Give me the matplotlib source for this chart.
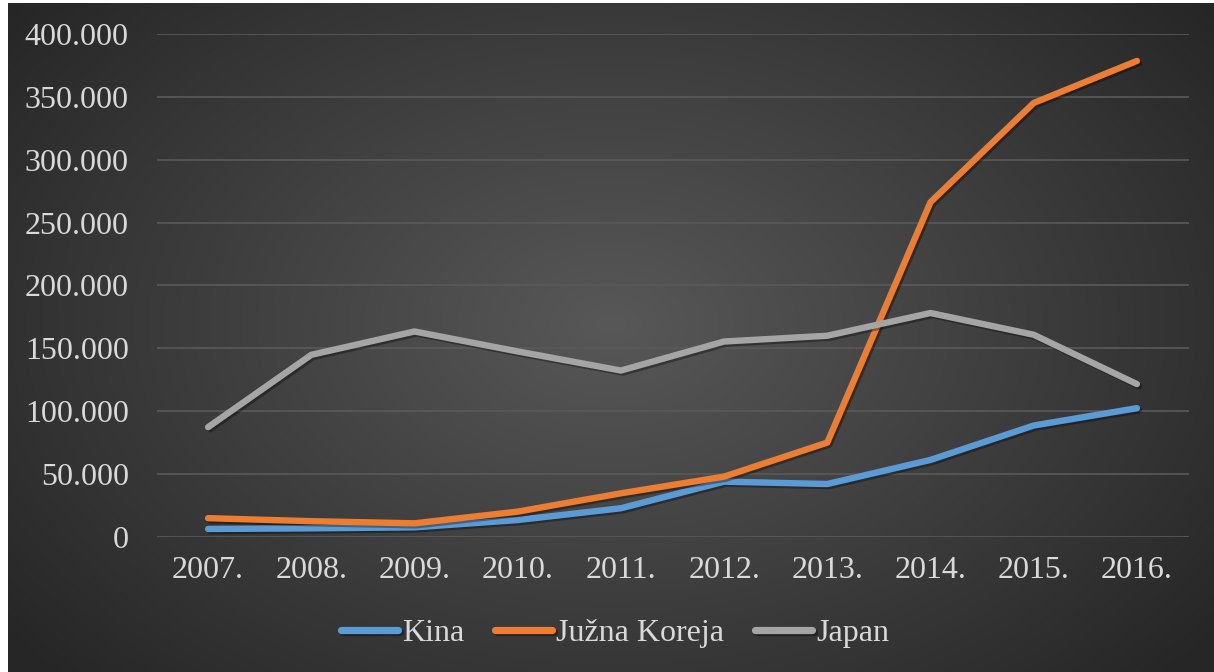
import numpy as np
import matplotlib.pyplot as plt
import matplotlib.patheffects as pe

years = ['2007.', '2008.', '2009.', '2010.', '2011.', '2012.', '2013.', '2014.', '2015.', '2016.']
kina = [6000, 6500, 7300, 13100, 22500, 43700, 41800, 61000, 88400, 102200]
juzna_koreja = [14600, 12200, 10500, 19800, 34400, 47700, 74800, 266300, 345300, 378800]
japan = [87100, 144700, 163300, 147400, 132200, 155300, 159900, 178000, 160700, 121400]

series = [('Kina', kina, '#5B9BD5'),
          ('Južna Koreja', juzna_koreja, '#ED7D31'),
          ('Japan', japan, '#A5A5A5')]

W, H = 1214, 672
plt.rcParams['font.family'] = ['Liberation Serif', 'DejaVu Serif']
text_col = '#D9D9D9'

fig = plt.figure(figsize=(W / 100, H / 100), dpi=100, facecolor='white')

# dark radial gradient background
bg = fig.add_axes([8 / W, 0, (W - 8) / W, (H - 3) / H])
yy, xx = np.mgrid[0:1:300j, 0:1:500j]
r = np.sqrt(((xx - 0.5) / 0.62) ** 2 + ((yy - 0.48) / 0.75) ** 2)
shade = np.clip(0.345 - 0.19 * r, 0.15, 0.4)
bg.imshow(np.dstack([shade] * 3), aspect='auto', extent=[0, 1, 0, 1])
bg.axis('off')

left, right = 156.5, 1188.5
top, bottom = 34.3, 536.5
ax = fig.add_axes([left / W, 1 - bottom / H, (right - left) / W, (bottom - top) / H])
ax.set_facecolor('none')

x = np.arange(len(years))
for name, vals, col in series:
    ax.plot(x, vals, color=col, lw=4.6, solid_capstyle='round', solid_joinstyle='round',
            label=name,
            path_effects=[pe.SimpleLineShadow(offset=(1.5, -1.5), shadow_color='black', alpha=0.35),
                          pe.Normal()])

ax.set_xlim(-0.5, len(years) - 0.5)
ax.set_ylim(0, 400000)
ax.set_yticks(np.arange(0, 400001, 50000))
ax.set_yticklabels(['0' if v == 0 else f'{v // 1000}.000' for v in range(0, 400001, 50000)])
ax.set_xticks(x)
ax.set_xticklabels(years)
ax.tick_params(axis='both', length=0, labelsize=23, labelcolor=text_col)
ax.tick_params(axis='y', pad=20)
ax.tick_params(axis='x', pad=14)
ax.grid(axis='y', color='#5A5A5A', lw=1.2)
ax.set_axisbelow(True)
for s in ax.spines.values():
    s.set_visible(False)

leg = fig.legend(loc='center', bbox_to_anchor=(615 / W, 1 - 633 / H), ncol=3, frameon=False,
                 fontsize=23, handlelength=1.78, handletextpad=0.13, columnspacing=0.97)
for t in leg.get_texts():
    t.set_color(text_col)
for h in leg.get_lines():
    h.set_linewidth(5.2)
    h.set_solid_capstyle('round')

fig.savefig('out.png', dpi=100, facecolor='white')
